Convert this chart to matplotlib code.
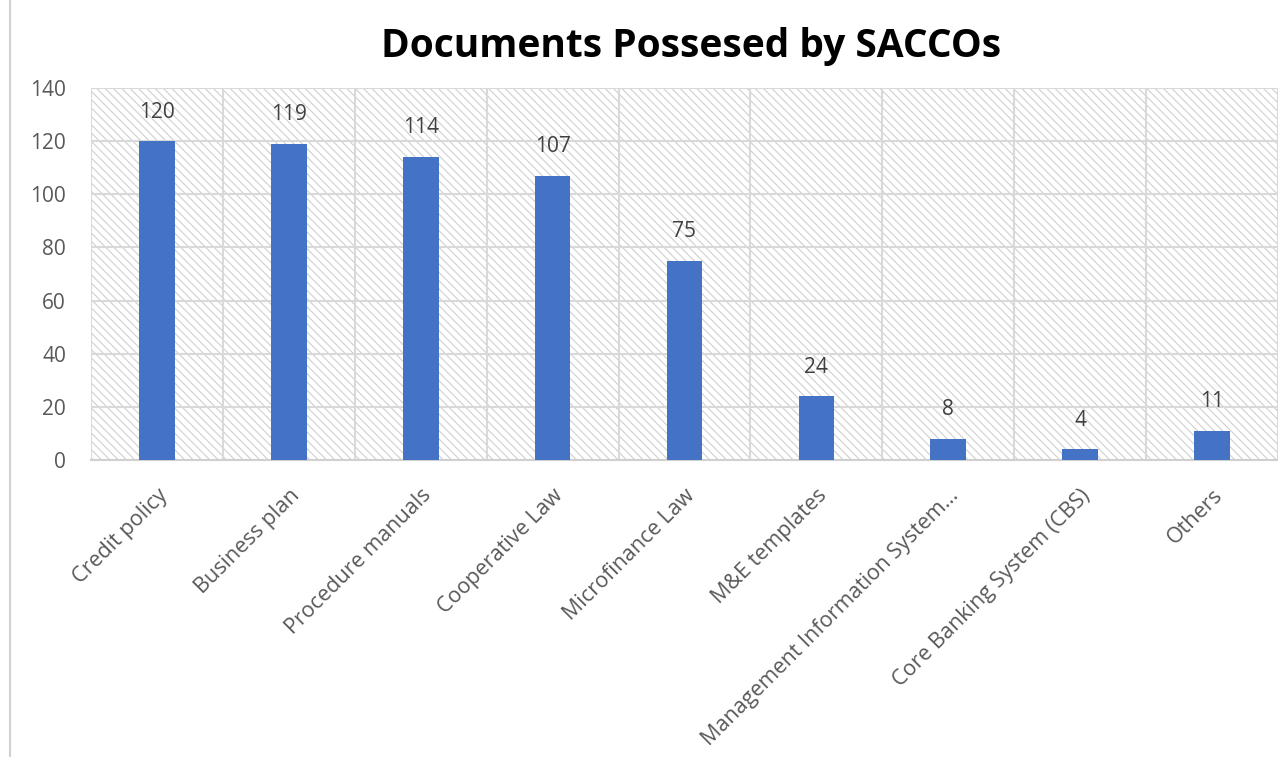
import matplotlib
matplotlib.use("Agg")
import matplotlib.pyplot as plt
from matplotlib.patches import Rectangle
from matplotlib.lines import Line2D
import numpy as np

categories = ["Credit policy", "Business plan", "Procedure manuals", "Cooperative Law",
              "Microfinance Law", "M&E templates", "Management Information System\u2026",
              "Core Banking System (CBS)", "Others"]
counts = [120, 119, 114, 107, 75, 24, 8, 4, 11]
yticks = [0, 20, 40, 60, 80, 100, 120, 140]

plt.rcParams['font.family'] = ['Open Sans', 'DejaVu Sans']
plt.rcParams['hatch.linewidth'] = 0.8

fig = plt.figure(figsize=(12.78, 7.57), dpi=100)
ax = fig.add_axes([0.0712, 0.3923, 0.9288, 0.4915])

x = np.arange(len(categories))
ax.set_xlim(-0.5, len(categories) - 0.5)
ax.set_ylim(0, 140)

# hatched plot area
ax.add_patch(Rectangle((0, 0), 1, 1, transform=ax.transAxes, fill=False,
                       hatch='\\\\\\\\', edgecolor='#cfcfcf', linewidth=0, zorder=0))

ax.bar(x, counts, width=0.27, color='#4472c4', zorder=3)
for xi, v in zip(x, counts):
    ax.text(xi, v + 7, str(v), ha='center', va='bottom', fontsize=15, color='#404040')

ax.set_yticks(yticks)
ax.set_xticks(x)
ax.set_xticks(np.arange(-0.5, len(categories), 1), minor=True)
ax.set_xticklabels(categories, rotation=45, ha='right', rotation_mode='anchor',
                   fontsize=15.5, color='#595959')
ax.tick_params(axis='y', labelsize=15, labelcolor='#595959', length=0, pad=18)
ax.tick_params(axis='x', which='both', length=0, pad=18)
ax.grid(axis='y', color='#d9d9d9', linewidth=1.5, zorder=1)
ax.grid(axis='x', which='minor', color='#d9d9d9', linewidth=1.5, zorder=1)
ax.set_axisbelow(True)
for s in ['top', 'right', 'left']:
    ax.spines[s].set_visible(False)
ax.spines['bottom'].set_color('#d0d0d0')
ax.spines['bottom'].set_linewidth(1.5)

fig.text(0.541, 0.938, "Documents Possesed by SACCOs", ha='center', va='center',
         fontsize=28, fontweight='bold', color='black')

fig.add_artist(Line2D([0.0075, 0.0075], [0, 1], transform=fig.transFigure,
                      color='#d0d0d0', linewidth=1.5))

fig.savefig("out.png", dpi=100)
